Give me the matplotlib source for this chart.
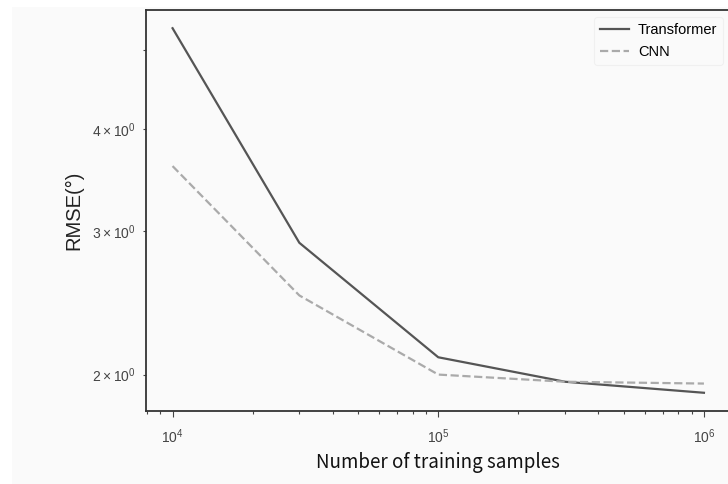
import numpy as np
from matplotlib import pyplot as plt
from matplotlib.patches import Rectangle

samples = [1e4, 3e4, 1e5, 3e5, 1e6]
rmse_transformer = [5.31, 2.90, 2.10, 1.96, 1.90]
rmse_cnn = [3.60, 2.50, 2.00, 1.96, 1.95]

plt.rcParams['font.family'] = ['Liberation Sans', 'DejaVu Sans']

fig = plt.figure(figsize=(7.28, 4.84), dpi=100)
fig.patch.set_facecolor('white')
# light grey panel behind the plot
fig.patches.append(Rectangle((12 / 728, 0), 1, 1 - 7 / 484, transform=fig.transFigure,
                             facecolor='#fafafa', edgecolor='none', zorder=-1))

ax = fig.add_axes([146 / 728, 73 / 484, 584.5 / 728, 401 / 484])
ax.set_facecolor('#fafafa')

ax.plot(samples, rmse_transformer, color='#555555', lw=1.6, label='Transformer')
ax.plot(samples, rmse_cnn, color='#aaaaaa', lw=1.6, ls='--', label='CNN')
ax.set_xscale('log')
ax.set_yscale('log')

for s in ['left', 'bottom', 'top', 'right']:
    ax.spines[s].set_color('#333333')
    ax.spines[s].set_linewidth(1.3)

ax.tick_params(axis='both', which='both', colors='#444444', labelsize=10, width=0.8)
ax.tick_params(axis='both', which='major', length=4)
ax.tick_params(axis='both', which='minor', length=2.5)
ax.tick_params(axis='x', which='both', pad=8)
ax.tick_params(axis='y', which='both', pad=5)

ax.set_ylabel('RMSE(°)', fontsize=14.5, color='#222222', labelpad=6)
ax.set_xlabel('Number of training samples', fontsize=13.5,
              family=['Noto Sans CJK SC', 'DejaVu Sans'], color='#111111', labelpad=4)

leg = ax.legend(loc='upper right', bbox_to_anchor=((723 - 146) / 584.5, 1 - 7 / 401),
                borderaxespad=0, fontsize=10.5,
                frameon=True, fancybox=True, handlelength=2.0, borderpad=0.4,
                labelspacing=0.55, handletextpad=0.6)
leg.get_frame().set_edgecolor('#eeeeee')
leg.get_frame().set_facecolor('#fafafa')
leg.get_frame().set_linewidth(0.8)

fig.savefig('out.png', dpi=100, facecolor=fig.get_facecolor())
